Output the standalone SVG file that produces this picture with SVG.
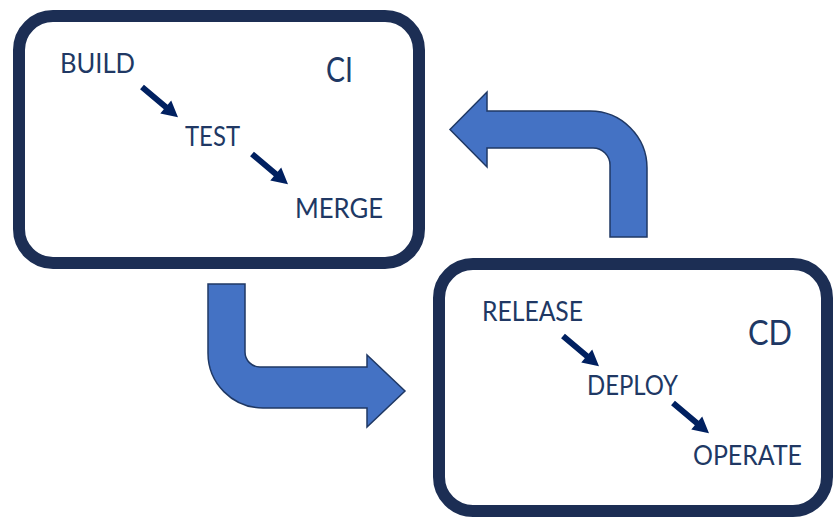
<svg xmlns="http://www.w3.org/2000/svg" width="833" height="518" viewBox="0 0 833 518">
  <style>
    .box { fill: #ffffff; stroke: #1C2E54; stroke-width: 12; }
    .step { font-family: "Lato", "Open Sans", "Liberation Sans", sans-serif; font-size: 27px; fill: #203864; }
    .title { font-family: "Lato", "Open Sans", "Liberation Sans", sans-serif; font-size: 35px; fill: #203864; }
    .flow { fill: #4472C4; stroke: #1F3864; stroke-width: 1.5; stroke-linejoin: miter; }
    .small { fill: #002060; }
  </style>
  <defs>
    <!-- short diagonal step arrow, drawn along +x, tail at origin -->
    <path id="step-arrow" d="M0,-3 L31,-3 L31,-8.5 L47,0 L31,8.5 L31,3 L0,3 Z"/>
  </defs>

  <!-- CI stage -->
  <g id="ci">
    <rect class="box" x="19" y="16" width="400" height="247" rx="34" ry="34"/>
    <text class="title" x="326" y="82" textLength="27" lengthAdjust="spacingAndGlyphs">CI</text>
    <text class="step" x="60" y="73" textLength="75" lengthAdjust="spacingAndGlyphs">BUILD</text>
    <text class="step" x="185" y="146" textLength="55" lengthAdjust="spacingAndGlyphs">TEST</text>
    <text class="step" x="295" y="218" textLength="88" lengthAdjust="spacingAndGlyphs">MERGE</text>
  </g>

  <!-- CD stage -->
  <g id="cd">
    <rect class="box" x="439" y="264" width="388" height="247" rx="34" ry="34"/>
    <text class="title" x="748" y="345" textLength="44" lengthAdjust="spacingAndGlyphs">CD</text>
    <text class="step" x="482" y="321" textLength="101" lengthAdjust="spacingAndGlyphs">RELEASE</text>
    <text class="step" x="587" y="395" textLength="91" lengthAdjust="spacingAndGlyphs">DEPLOY</text>
    <text class="step" x="693" y="465" textLength="109" lengthAdjust="spacingAndGlyphs">OPERATE</text>
  </g>

  <!-- connectors -->
  <g id="connectors">
    <!-- steps inside each stage -->
    <use href="#step-arrow" class="small" transform="translate(142,87) rotate(40)"/>
    <use href="#step-arrow" class="small" transform="translate(252,154) rotate(40)"/>
    <use href="#step-arrow" class="small" transform="translate(563,336) rotate(40)"/>
    <use href="#step-arrow" class="small" transform="translate(673,403) rotate(40)"/>

    <!-- CI to CD bent arrow -->
    <path class="flow" d="M208,284 L245,284 L245,352 A15,15 0 0 0 260,367 L367,367 L367,355 L405,391 L367,427 L367,408 L263,408 A55,55 0 0 1 208,353 Z"/>

    <!-- CD back to CI bent arrow -->
    <path class="flow" d="M610,237 L610,165 A17,17 0 0 0 593,148 L487,148 L487,167 L450,129.5 L487,92 L487,111 L590,111 A57,57 0 0 1 647,168 L647,237 Z"/>
  </g>
</svg>
